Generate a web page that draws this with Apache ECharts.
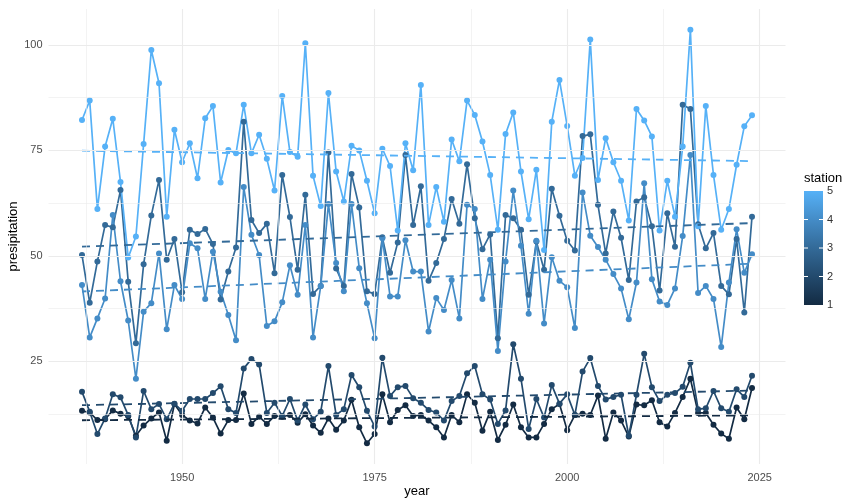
<!DOCTYPE html>
<html lang="en">
<head>
<meta charset="UTF-8">
<title>presipitation</title>
<script src="https://cdn.jsdelivr.net/npm/echarts@6/dist/echarts.min.js"></script>
<style>
  html, body { margin: 0; padding: 0; background: #fff; }
  #chart { width: 842px; height: 500px; }
</style>
</head>
<body>
<div id="chart"></div>
<script>
// years 1937..2024
var years = [];
for (var y = 1937; y <= 2024; y++) years.push(y);

var station1 = [13.3,12.9,11.1,11.3,13.4,12.6,12.0,7.4,9.8,11.5,12.9,6.2,14.9,12.3,11.0,10.3,14.1,11.7,7.9,11.1,
  11.1,17.4,10.2,11.9,10.2,12.1,11.9,12.3,10.5,12.5,9.8,8.1,11.5,8.8,11.0,15.9,9.4,5.6,7.8,17.2,
  10.6,13.5,14.6,12.1,12.3,11.0,9.4,7.0,12.3,10.6,17.2,15.2,8.6,13.1,6.4,10.0,14.8,9.4,7.0,7.0,
  10.2,13.7,14.9,8.7,12.3,12.6,12.3,16.9,6.7,12.9,11.0,7.2,14.8,14.6,15.8,10.6,9.6,12.8,16.6,20.9,
  12.8,12.8,10.0,7.9,6.7,14.1,11.3,18.7];
var station2 = [17.8,13.1,7.8,11.5,17.2,16.5,12.3,7.0,18.0,13.7,14.9,11.3,15.0,13.3,16.1,16.1,16.1,17.5,19.1,13.7,
  12.8,23.3,25.6,24.3,12.8,15.2,12.1,16.1,11.0,14.8,11.3,13.1,23.9,12.3,13.7,21.8,18.9,13.3,9.6,25.9,
  16.8,18.9,19.2,16.3,15.2,13.5,12.9,11.0,15.6,16.8,22.2,23.9,17.2,16.0,10.2,13.4,29.1,20.9,9.0,16.1,
  11.7,19.4,15.0,17.2,12.3,22.6,25.8,19.2,16.0,16.6,17.1,7.4,17.1,26.8,18.9,15.6,17.1,17.5,19.0,24.7,
  13.7,13.9,18.0,13.9,13.1,18.4,16.6,21.6];
var station3 = [50.2,38.9,48.7,57.3,56.8,65.6,43.9,29.3,48.0,59.6,68.0,49.1,54.0,41.4,56.2,55.2,56.4,52.8,39.7,46.3,
  52.0,81.8,58.5,55.4,57.6,45.9,69.2,59.2,46.7,64.5,41.0,42.9,74.5,47.0,42.9,69.4,61.5,41.6,41.0,54.4,
  46.0,53.2,73.9,57.3,66.5,44.1,48.3,54.0,63.5,57.6,71.7,58.9,51.6,55.1,30.5,59.7,58.9,56.2,40.8,53.4,
  46.7,65.9,59.5,53.6,51.3,78.4,78.8,62.1,50.6,60.5,54.3,44.3,62.9,63.9,57.0,41.8,60.1,52.2,85.8,84.8,
  57.5,51.8,55.4,42.9,40.9,54.0,36.6,59.3];
var station4 = [43.1,30.7,35.2,39.9,59.7,44.0,34.7,20.9,36.8,38.8,50.6,32.6,43.1,39.8,53.0,51.8,39.8,51.0,41.5,36.0,
  30.0,66.3,55.0,50.2,33.4,34.5,39.0,47.8,40.8,57.3,30.7,42.9,62.3,48.3,41.6,62.3,47.1,38.8,30.5,54.2,
  40.4,40.4,53.7,46.3,46.3,32.1,40.0,37.2,44.3,35.2,62.1,61.1,39.8,49.1,27.5,48.7,65.5,52.4,36.3,53.6,
  34.0,49.7,44.1,42.6,32.9,65.0,54.8,52.1,49.1,45.7,42.3,35.0,43.7,67.2,44.5,39.2,38.4,42.3,54.7,73.9,
  41.2,42.9,39.8,28.4,43.7,56.3,46.0,50.4];
var station5 = [82.2,86.8,61.1,75.9,82.5,67.5,49.6,54.6,76.5,98.8,90.9,59.3,79.9,72.2,76.7,68.4,82.6,85.5,67.4,75.1,
  74.3,85.8,74.3,78.7,73.0,65.5,87.9,74.6,73.5,100.4,69.0,61.8,88.6,70.0,62.9,76.1,75.0,67.8,60.1,75.4,
  71.3,56.0,76.7,70.3,90.5,57.3,66.3,58.1,77.6,72.4,86.8,83.4,77.1,69.2,56.2,78.9,84.0,70.0,58.7,70.4,
  51.4,81.8,91.7,80.8,69.0,73.2,101.3,68.0,77.9,72.2,67.8,58.4,84.8,82.1,78.3,56.0,67.8,59.3,75.9,103.6,
  57.0,85.5,69.2,56.2,61.1,71.6,80.7,83.3];

var stationNames = ['1', '2', '3', '4', '5'];
var stationData = [station1, station2, station3, station4, station5];
var stationColors = ['#132B43', '#234A6D', '#336A98', '#448CC7', '#56B1F7'];

var xMajor = [1950, 1975, 2000, 2025];
var xMinor = [1937.5, 1962.5, 1987.5, 2012.5];
var yMajor = [25, 50, 75, 100];
var yMinor = [12.5, 37.5, 62.5, 87.5];

function fit(vals) {
  var n = vals.length, sx = 0, sy = 0, sxx = 0, sxy = 0;
  for (var i = 0; i < n; i++) {
    sx += years[i]; sy += vals[i];
    sxx += years[i] * years[i]; sxy += years[i] * vals[i];
  }
  var b = (n * sxy - sx * sy) / (n * sxx - sx * sx);
  var a = (sy - b * sx) / n;
  var x0 = years[0], x1 = years[n - 1];
  return [[x0, a + b * x0], [x1, a + b * x1]];
}

var series = [];
// grid lines drawn under everything
var gridLines = [];
xMajor.forEach(function (v) { gridLines.push({ xAxis: v, lineStyle: { width: 1.1 } }); });
xMinor.forEach(function (v) { gridLines.push({ xAxis: v, lineStyle: { width: 0.6 } }); });
yMajor.forEach(function (v) { gridLines.push({ yAxis: v, lineStyle: { width: 1.1 } }); });
yMinor.forEach(function (v) { gridLines.push({ yAxis: v, lineStyle: { width: 0.6 } }); });
series.push({
  type: 'line', data: [], z: 1, silent: true,
  markLine: {
    silent: true, symbol: ['none', 'none'], animation: false,
    label: { show: false },
    lineStyle: { color: '#EBEBEB', type: 'solid' },
    data: gridLines
  }
});

stationData.forEach(function (vals, k) {
  series.push({
    name: stationNames[k], type: 'line', z: 2,
    data: years.map(function (yr, i) { return [yr, vals[i]]; }),
    symbol: 'circle', symbolSize: 6, showSymbol: true,
    lineStyle: { color: stationColors[k], width: 1.7 },
    itemStyle: { color: stationColors[k], borderWidth: 0 }
  });
});
stationData.forEach(function (vals, k) {
  series.push({
    type: 'line', z: 3, silent: true,
    data: fit(vals), symbol: 'none',
    lineStyle: { color: stationColors[k], width: 1.8, type: [8, 6] }
  });
});

// colourbar legend
var barTop = 191, barBottom = 305, barX = 804, barW = 19;
var legend = [
  { type: 'text', left: 804, top: 172, style: { text: 'station', fontSize: 13, fill: '#000', fontFamily: 'Liberation Sans' } },
  { type: 'rect', shape: { x: barX, y: barTop, width: barW, height: barBottom - barTop },
    style: { fill: new echarts.graphic.LinearGradient(0, 0, 0, 1, [
      { offset: 0, color: stationColors[4] }, { offset: 0.25, color: stationColors[3] },
      { offset: 0.5, color: stationColors[2] }, { offset: 0.75, color: stationColors[1] },
      { offset: 1, color: stationColors[0] }]) } }
];
stationNames.forEach(function (s, k) {
  var yy = barBottom - k * (barBottom - barTop) / 4;
  if (k > 0 && k < 4) {
    legend.push({ type: 'line', shape: { x1: barX, y1: yy, x2: barX + 4, y2: yy }, style: { stroke: '#fff', lineWidth: 1 } });
    legend.push({ type: 'line', shape: { x1: barX + barW - 4, y1: yy, x2: barX + barW, y2: yy }, style: { stroke: '#fff', lineWidth: 1 } });
  }
  legend.push({ type: 'text', x: 827, y: yy, style: { text: s, fontSize: 11, fill: '#333', fontFamily: 'Liberation Sans', verticalAlign: 'middle' } });
});

var chart = echarts.init(document.getElementById('chart'));
chart.setOption({
  animation: false,
  textStyle: { fontFamily: 'Liberation Sans' },
  grid: { left: 48.5, right: 56.5, top: 9, bottom: 36, containLabel: false, outerBoundsMode: 'none' },
  xAxis: {
    type: 'value', min: 1932.65, max: 2028.35,
    axisLine: { show: false }, axisTick: { show: false }, splitLine: { show: false },
    axisLabel: { customValues: xMajor, color: '#4D4D4D', fontSize: 11, margin: 8,
      formatter: function (v) { return String(v); } },
    name: 'year', nameLocation: 'middle', nameGap: 21, nameMoveOverlap: false,
    nameTextStyle: { fontSize: 13, color: '#000', verticalAlign: 'top' }
  },
  yAxis: {
    type: 'value', min: 0.7, max: 108.5,
    axisLine: { show: false }, axisTick: { show: false }, splitLine: { show: false },
    axisLabel: { customValues: yMajor, color: '#4D4D4D', fontSize: 11, margin: 6,
      formatter: function (v) { return String(v); } },
    name: 'presipitation', nameLocation: 'middle', nameGap: 35, nameRotate: 90, nameMoveOverlap: false,
    nameTextStyle: { fontSize: 13, color: '#000', verticalAlign: 'middle' }
  },
  graphic: legend,
  series: series
});
</script>
</body>
</html>
